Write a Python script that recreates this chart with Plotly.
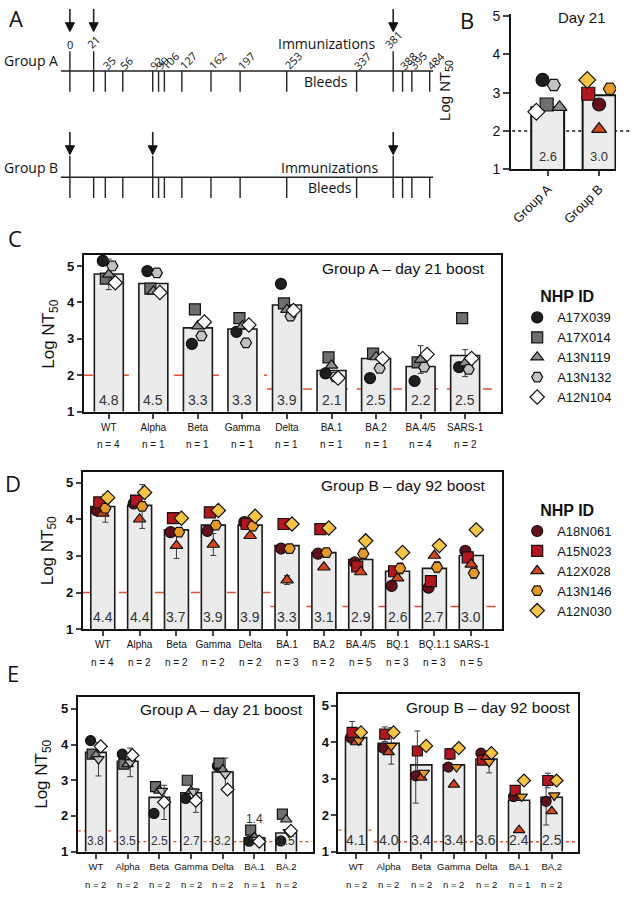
import numpy as np
import plotly.graph_objects as go

W, H = 636, 899
FONT = "Liberation Sans, Arial, sans-serif"
FONT_A = "Open Sans, Liberation Sans, sans-serif"

# ---- A: immunization / bleed schedule (days) ----
imm_days_a = [0, 21, 381]
imm_days_b = [0, 92, 381]
bleed_days = [0, 21, 35, 56, 92, 99, 106, 127, 162, 197, 253, 337, 381, 388, 395, 484]
# schematic timeline is not to scale -> broken axis
break_days = [0, 21, 381, 395, 484]
break_units = [0, 28, 381, 403, 424]

# ---- animals ----
ids_a = ["A17X039", "A17X014", "A13N119", "A13N132", "A12N104"]
ids_b = ["A18N061", "A15N023", "A12X028", "A13N146", "A12N030"]
colors_a = ["#1f1f1f", "#6f6f6f", "#8e8e8e", "#c2c2c2", "#ffffff"]
colors_b = ["#64101a", "#b3161f", "#d4461c", "#e59a25", "#f5c444"]
symbols = ["circle", "square", "triangle-up", "hexagon2", "diamond"]
symbols_e = ["circle", "square", "triangle-up", "triangle-down", "diamond"]

# ---- B: day 21 ----
b_groups = ["Group A", "Group B"]
b_bars = [2.62, 2.93]
b_labels = ["2.6", "3.0"]
b_group_a = [3.33, 2.69, 2.62, 3.20, 2.50]
b_group_b = [2.69, 2.97, 2.05, 3.10, 3.33]

# ---- C: group A, day 21 boost ----
c_variants = ["WT", "Alpha", "Beta", "Gamma", "Delta", "BA.1", "BA.2", "BA.4/5", "SARS-1"]
c_n = [4, 1, 1, 1, 1, 1, 1, 4, 2]
c_bars = [4.78, 4.52, 3.30, 3.27, 3.93, 2.13, 2.46, 2.24, 2.54]
c_labels = ["4.8", "4.5", "3.3", "3.3", "3.9", "2.1", "2.5", "2.2", "2.5"]
c_lod = [2.0, 2.0, 2.0, 2.0, 1.62, 1.62, 1.62, 1.62, 1.62]
c_vals = {
    "A17X039": [5.14, 4.86, 2.86, 3.19, 4.51, 2.05, 1.92, 1.84, 2.22],
    "A17X014": [4.65, 4.38, 3.81, 3.57, 3.97, 2.49, 2.59, 2.35, 3.57],
    "A13N119": [4.77, 4.30, 3.35, 3.35, 3.80, 2.27, 2.50, 2.43, 2.33],
    "A13N132": [5.00, 4.81, 3.08, 2.89, 3.62, 1.95, 2.19, 2.22, 2.16],
    "A12N104": [4.54, 4.27, 3.46, 3.38, 3.78, 1.92, 2.46, 2.57, 2.46],
}
c_err = {"A13N119": [0.42, 0, 0, 0, 0, 0, 0, 0.38, 0.37]}

# ---- D: group B, day 92 boost ----
d_variants = ["WT", "Alpha", "Beta", "Gamma", "Delta", "BA.1", "BA.2", "BA.4/5", "BQ.1", "BQ.1.1", "SARS-1"]
d_n = [4, 2, 2, 2, 2, 3, 2, 5, 3, 3, 5]
d_bars = [4.35, 4.38, 3.71, 3.84, 3.84, 3.28, 3.09, 2.90, 2.58, 2.66, 3.01]
d_labels = ["4.4", "4.4", "3.7", "3.9", "3.9", "3.3", "3.1", "2.9", "2.6", "2.7", "3.0"]
d_lod = [2.0, 2.0, 2.0, 2.0, 2.0, 1.62, 1.62, 1.62, 1.62, 1.62, 1.62]
d_vals = {
    "A18N061": [4.24, 4.43, 3.65, 3.68, 3.92, 3.20, 3.06, 2.82, 2.18, 2.13, 3.14],
    "A15N023": [4.46, 4.51, 4.03, 4.19, 3.87, 3.87, 3.73, 2.71, 2.58, 2.31, 2.96],
    "A12X028": [4.16, 4.00, 3.28, 3.31, 3.55, 2.34, 2.69, 2.56, 2.39, 3.01, 2.77],
    "A13N146": [4.30, 4.35, 3.65, 3.84, 3.81, 3.20, 3.09, 3.06, 2.66, 2.69, 2.53],
    "A12N030": [4.59, 4.73, 4.03, 4.24, 4.08, 3.87, 3.76, 3.41, 3.09, 3.28, 3.71],
}
d_err = {
    "A13N146": [0.38, 0.60, 0, 0, 0, 0, 0, 0.15, 0.15, 0.15, 0.15],
    "A12X028": [0, 0, 0.35, 0.30, 0, 0.12, 0, 0, 0, 0, 0],
}

# ---- E: subset of variants ----
e_variants = ["WT", "Alpha", "Beta", "Gamma", "Delta", "BA.1", "BA.2"]
ea_n = [2, 2, 2, 2, 2, 1, 2]
ea_bars = [3.78, 3.53, 2.52, 2.65, 3.23, 1.39, 1.52]
ea_labels = ["3.8", "3.5", "2.5", "2.7", "3.2", "1.4", "1.5"]
ea_lod = [1.58, 1.28, 1.28, 1.28, 1.28, 1.28, 1.28]
ea_vals = {
    "A17X039": [4.11, 3.73, 2.07, 2.49, 3.40, 1.29, 1.30],
    "A17X014": [3.73, 3.45, 2.82, 3.00, 3.48, 1.60, 2.05],
    "A13N119": [3.70, 3.45, 2.71, 2.70, 3.30, 1.40, 1.90],
    "A13N132": [3.59, 3.50, 2.70, 2.68, 3.17, 1.33, 1.55],
    "A12N104": [3.95, 3.70, 2.38, 2.43, 2.74, 1.28, 1.58],
}
ea_err = {
    "A13N132": [0.47, 0.40, 0, 0, 0.45, 0, 0],
    "A12N104": [0, 0, 0.48, 0.33, 0, 0, 0],
}
eb_n = [2, 2, 2, 2, 2, 1, 2]
eb_bars = [4.13, 3.97, 3.38, 3.38, 3.54, 2.41, 2.49]
eb_labels = ["4.1", "4.0", "3.4", "3.4", "3.6", "2.4", "2.5"]
eb_lod = [1.59, 1.27, 1.27, 1.27, 1.27, 1.27, 1.27]
eb_vals = {
    "A18N061": [4.13, 3.84, 3.08, 3.32, 3.70, 2.51, 2.38],
    "A15N023": [4.27, 4.22, 3.76, 3.68, 3.51, 2.68, 2.95],
    "A12X028": [4.00, 3.73, 3.03, 2.84, 3.60, 1.59, 2.11],
    "A13N146": [4.05, 3.90, 3.16, 3.32, 3.46, 2.51, 2.54],
    "A12N030": [4.27, 4.27, 3.90, 3.84, 3.70, 2.95, 2.95],
}
eb_err = {
    "A15N023": [0.30, 0.20, 0.55, 0.15, 0, 0, 0.20],
    "A13N146": [0, 0.50, 0, 0, 0.30, 0, 0],
    "A18N061": [0, 0, 0.75, 0, 0, 0, 0.65],
}


def X(px):
    return px / W


def Y(py):
    return 1 - py / H


fig = go.Figure()
annotations = []
shapes = []
axes = {}


def text(x, y, s, size, xref="paper", yref="paper", font=FONT, color="#111", **kw):
    a = dict(x=x, y=y, xref=xref, yref=yref, text=s, showarrow=False,
             xanchor="center", yanchor="middle",
             font=dict(family=font, size=size, color=color))
    a.update(kw)
    annotations.append(a)


# ================= A: timeline =================
def tl(day):
    return float(np.interp(day, break_days, break_units))


axes["xaxis"] = dict(domain=[0, X(436)], range=[-81.2, 431.8], visible=False)
axes["yaxis"] = dict(domain=[Y(200), 1], range=[200, 0], visible=False)


def line(x0, x1, y0, y1, width=1.4):
    shapes.append(dict(type="line", xref="x", yref="y", x0=x0, x1=x1, y0=y0, y1=y1,
                       line=dict(color="#222", width=width)))


def arrow(x, y_tip):
    # shaft + filled head
    line(x, x, y_tip - 23, y_tip - 7, width=1.6)
    shapes.append(dict(type="path", xref="x", yref="y", fillcolor="#111",
                       line=dict(color="#111", width=1),
                       path=f"M {x - 5.3},{y_tip - 9} L {x + 5.3},{y_tip - 9} L {x},{y_tip} Z"))


for base, imm_days, arr_y, top in [(66, imm_days_a, 26, 46), (174, imm_days_b, 151, 152)]:
    line(-10.6, tl(484) + 4, base, base, width=1.6)
    for d in bleed_days:
        line(tl(d), tl(d), base, base + 21)
    for d in imm_days:
        line(tl(d), tl(d), top, base)
        arrow(tl(d), arr_y)

# day labels for group A
text(tl(0), 39, "0", 11, xref="x", yref="y", font=FONT_A)
for d, yc in [(21, 36), (381, 34)]:
    text(tl(d), yc, str(d), 11, xref="x", yref="y", font=FONT_A, textangle=-45)
for d in bleed_days:
    if d in imm_days_a:
        continue
    s = str(d)
    hw = len(s) * 3.0
    text(tl(d), 62, s, 11, xref="x", yref="y", font=FONT_A, textangle=-45,
         xshift=0.7 * hw, yshift=0.7 * hw)

text(X(30), 55, "Group A", 14, yref="y", font=FONT_A)
text(X(30), 164, "Group B", 14, yref="y", font=FONT_A)
text(X(326), 38, "Immunizations", 14, yref="y", font=FONT_A)
text(X(326), 77, "Bleeds", 14, yref="y", font=FONT_A)
text(X(329), 164, "Immunizations", 14, yref="y", font=FONT_A)
text(X(330), 184, "Bleeds", 14, yref="y", font=FONT_A)

# ================= B: day 21 =================
fig.add_trace(go.Bar(x=[0, 1], y=b_bars, width=0.64, xaxis="x2", yaxis="y2",
                     marker=dict(color="#ececec", line=dict(color="#111", width=2)),
                     showlegend=False, hoverinfo="skip"))
b_jit_a = [-0.10, -0.02, 0.23, 0.12, -0.22]
b_jit_b = [0.0, -0.21, 0.0, 0.21, -0.23]
for j in range(5):
    for gi, vals, cols, jit, ids in [(0, b_group_a, colors_a, b_jit_a, ids_a),
                                      (1, b_group_b, colors_b, b_jit_b, ids_b)]:
        fig.add_trace(go.Scatter(x=[gi + jit[j]], y=[vals[j]], mode="markers", xaxis="x2", yaxis="y2",
                                 marker=dict(symbol=symbols[j], size=13, color=cols[j],
                                             line=dict(color="#111", width=1.2)),
                                 name=ids[j], showlegend=False))
axes["xaxis2"] = dict(domain=[X(511), X(616)], range=[-0.71, 1.33], anchor="y2",
                      tickvals=[0, 1], ticktext=b_groups, tickangle=-45, ticks="outside",
                      ticklen=5, tickwidth=1.5, showline=True, linewidth=2, linecolor="#111",
                      showgrid=False, zeroline=False, tickfont=dict(family=FONT, size=13, color="#111"))
axes["yaxis2"] = dict(domain=[Y(166), Y(8)], range=[1, 5.05], anchor="x2",
                      tickvals=[1, 2, 3, 4, 5], ticks="outside", ticklen=6, tickwidth=1.5,
                      showline=True, linewidth=2, linecolor="#111", showgrid=False, zeroline=False,
                      tickfont=dict(family=FONT, size=14, color="#111"))
shapes.append(dict(type="line", xref="paper", yref="y2", x0=X(512), x1=X(632), y0=2, y1=2,
                   layer="below", line=dict(color="#111", width=1.3, dash="dot")))
for i, s in enumerate(b_labels):
    text(i, 1, s, 13, xref="x2", yref="y2", yanchor="bottom", yshift=3, color="#333")
text(X(582), Y(12), "Day 21", 15)
text(X(445), Y(86), "Log NT<sub>50</sub>", 15, textangle=-90)


# ================= bar panels C, D, E =================
def bar_panel(k, variants, n, bars, labels, vals, errs, ids, colors, syms, offs,
              xpx, ypx, xrange, ymax, lod, lod_dash, lod_w, npx, title, title_px,
              msize, labsize, tickfs, legend=None):
    xa, ya = f"x{k}", f"y{k}"
    idx = np.arange(len(variants))
    fig.add_trace(go.Bar(x=idx, y=bars, width=0.65, xaxis=xa, yaxis=ya,
                         marker=dict(color="#ebebeb", line=dict(color="#1a1a1a", width=1.6)),
                         showlegend=False, hoverinfo="skip"))
    for j, aid in enumerate(ids):
        e = errs.get(aid)
        fig.add_trace(go.Scatter(
            x=idx + offs[j], y=vals[aid], mode="markers", xaxis=xa, yaxis=ya, name=aid,
            marker=dict(symbol=syms[j], size=msize, color=colors[j], line=dict(color="#111", width=1.2)),
            error_y=dict(type="data", array=e if e else [0] * len(idx), visible=e is not None,
                         color="#3a3a48", thickness=1, width=3),
            showlegend=legend is not None, legend=legend or "legend"))
    axes[f"xaxis{k}"] = dict(domain=[X(xpx[0]), X(xpx[1])], range=xrange, anchor=ya,
                             tickvals=list(idx), ticktext=variants, ticks="outside", ticklen=5,
                             tickwidth=1.5, showline=True, linewidth=2, linecolor="#111", mirror=True,
                             showgrid=False, zeroline=False, tickangle=0,
                             tickfont=dict(family=FONT, size=tickfs, color="#111"))
    axes[f"yaxis{k}"] = dict(domain=[Y(ypx[1]), Y(ypx[0])], range=[1, ymax], anchor=xa,
                             tickvals=[1, 2, 3, 4, 5], ticks="outside", ticklen=5, tickwidth=1.5,
                             showline=True, linewidth=2, linecolor="#111", mirror=True,
                             showgrid=False, zeroline=False,
                             tickfont=dict(family=FONT, size=13, color="#111", weight="bold"))
    # limit of detection segments
    start = 0
    for i in range(1, len(lod) + 1):
        if i == len(lod) or lod[i] != lod[start]:
            x0 = xrange[0] if start == 0 else start - 0.45
            x1 = xrange[1] if i == len(lod) else i - 0.45
            shapes.append(dict(type="line", xref=xa, yref=ya, x0=x0, x1=x1, y0=lod[start], y1=lod[start],
                               layer="below", line=dict(color="#e4502e", width=lod_w, dash=lod_dash)))
            start = i
    for i in idx:
        if bars[i] - 1 < 0.45:
            text(i, bars[i], labels[i], labsize, xref=xa, yref=ya, yanchor="bottom", yshift=10, color="#333")
        else:
            text(i, 1, labels[i], labsize, xref=xa, yref=ya, yanchor="bottom", yshift=2, color="#333")
        text(i, Y(npx), f"n = {n[i]}", tickfs, xref=xa)
    text(X(title_px[0]), Y(title_px[1]), title, 15.5, xanchor="right")


offs_c = [-0.135, -0.067, 0.0, 0.08, 0.146]
offs_d = [-0.16, -0.095, 0.0, 0.07, 0.135]
offs_e = [-0.17, -0.12, 0.0, 0.08, 0.15]

bar_panel(3, c_variants, c_n, c_bars, c_labels, c_vals, c_err, ids_a, colors_a, symbols, offs_c,
          (83, 501), (253, 412), [-0.56, 8.81], 5.3, c_lod, "dash", 1.6, 445,
          "Group A \u2013 day 21 boost", (487, 267), 11, 14, 10, legend="legend")
bar_panel(4, d_variants, d_n, d_bars, d_labels, d_vals, d_err, ids_b, colors_b, symbols, offs_d,
          (82, 502), (473, 633), [-0.54, 10.84], 5.3, d_lod, "dash", 1.6, 667,
          "Group B \u2013 day 92 boost", (487, 487), 11, 14, 10, legend="legend2")
bar_panel(5, e_variants, ea_n, ea_bars, ea_labels, ea_vals, ea_err, ids_a, colors_a, symbols_e, offs_e,
          (77, 312), (702, 859), [-0.57, 6.83], 5.33, ea_lod, "dot", 1.3, 892,
          "Group A \u2013 day 21 boost", (304, 715), 10, 12, 9.5)
bar_panel(6, e_variants, eb_n, eb_bars, eb_labels, eb_vals, eb_err, ids_b, colors_b, symbols_e, offs_e,
          (338, 578), (699, 859), [-0.54, 6.81], 5.32, eb_lod, "dot", 1.3, 892,
          "Group B \u2013 day 92 boost", (572, 713), 10, 14, 9.5)

for xpx, ypx in [(49, 333), (48, 553), (42, 780)]:
    text(X(xpx), Y(ypx), "Log NT<sub>50</sub>", 17, textangle=-90)

# panel letters
for s, xpx, ypx in [("A", 15, 12), ("B", 467, 14), ("C", 14, 236), ("D", 12, 485), ("E", 12, 678)]:
    text(X(xpx), Y(ypx), s, 22, font=FONT_A)

legend_style = dict(xanchor="left", yanchor="top", bgcolor="rgba(0,0,0,0)", borderwidth=0,
                    font=dict(family=FONT, size=13, color="#111"), itemsizing="trace",
                    tracegroupgap=0,
                    title=dict(text="<b>NHP ID</b>", side="top center",
                               font=dict(family=FONT, size=16, color="#111")))

fig.update_layout(
    width=W, height=H, margin=dict(l=0, r=0, t=0, b=0),
    paper_bgcolor="white", plot_bgcolor="white",
    font=dict(family=FONT, color="#111"),
    showlegend=True,
    legend=dict(x=X(517), y=Y(280), **legend_style),
    legend2=dict(x=X(517), y=Y(497), **legend_style),
    annotations=annotations, shapes=shapes, **axes,
)

fig.write_html("out.html", config={"displayModeBar": False},
               post_script="document.body.style.margin='0px';document.body.style.overflow='hidden';")
